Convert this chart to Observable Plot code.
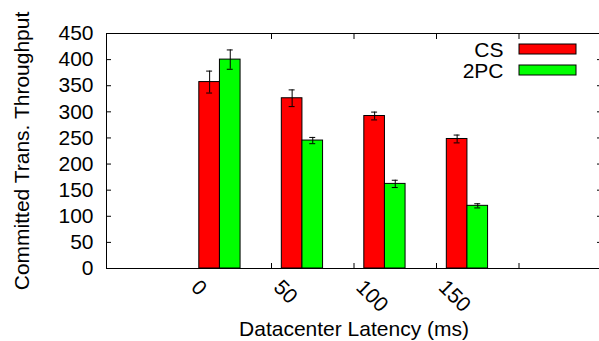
<!DOCTYPE html>
<html>
<head>
<meta charset="utf-8">
<script src="https://cdn.jsdelivr.net/npm/d3@7"></script>
<script src="https://cdn.jsdelivr.net/npm/@observablehq/plot@0.6"></script>
<style>
  html, body { margin: 0; padding: 0; background: #fff; }
  #chart svg { display: block; }
</style>
</head>
<body>
<div id="chart"></div>
<script>
// ---- data ----
const categories = ["0", "50", "100", "150"];
const seriesNames = ["CS", "2PC"];
const seriesColors = ["#ff0000", "#00ff00"];
const csValues = [357, 326, 292, 248];
const csErrors = [21, 16, 7.5, 7.5];
const pcValues = [400, 245, 162, 120];
const pcErrors = [18.5, 6, 7, 4];
const yTicks = [0, 50, 100, 150, 200, 250, 300, 350, 400, 450];
const yTitle = "Committed Trans. Throughput";
const xTitle = "Datacenter Latency (ms)";

// ---- layout ----
const W = 599, H = 341;
const FONT = "Liberation Sans, Arial, Helvetica, sans-serif";
const FS = 21;
const barW = 0.25;       // bar width in category units
const barOffset = 0.125; // first bar offset from category position
const capHalf = 0.036;
const legendRowGap = 21;

const values = [csValues, pcValues];
const errors = [csErrors, pcErrors];
const rows = [];
categories.forEach((c, i) => {
  seriesNames.forEach((s, k) => {
    const x1 = i + barOffset + k * barW;
    rows.push({cat: c, series: s, k, x1, x2: x1 + barW, xc: x1 + barW / 2,
               v: values[k][i], e: errors[k][i]});
  });
});
const catRows = categories.map((c, i) => ({c, i}));

// legend swatches as a custom mark using series colors
function legendSwatches(index, scales, vals, dims) {
  const g = d3.create("svg:g");
  const right = dims.width - dims.marginRight;
  seriesNames.forEach((s, k) => {
    g.append("rect")
      .attr("x", right - 82).attr("y", dims.marginTop + 11 + k * legendRowGap)
      .attr("width", 57).attr("height", 10)
      .attr("fill", seriesColors[k]).attr("stroke", "#000").attr("stroke-width", 1);
  });
  return g.node();
}

const legendTexts = seriesNames.map((s, k) =>
  Plot.text([s], {frameAnchor: "top-right", textAnchor: "end", lineAnchor: "middle",
    dx: -98, dy: 17 + k * legendRowGap, fontSize: FS, fill: "#000"}));

const chart = Plot.plot({
  width: W,
  height: H,
  marginLeft: 106,
  marginRight: -2,
  marginTop: 33,
  marginBottom: 73,
  style: {fontFamily: FONT, color: "#000", background: "#fff"},
  x: {type: "linear", domain: [-1, 5], axis: null},
  y: {domain: [0, 450], axis: null},
  marks: [
    Plot.rect(rows, {x1: "x1", x2: "x2", y1: 0, y2: "v",
      fill: d => seriesColors[d.k], stroke: "#000", strokeWidth: 1}),
    Plot.ruleX(rows, {x: "xc", y1: d => d.v - d.e, y2: d => d.v + d.e, stroke: "#000", strokeWidth: 1}),
    Plot.ruleY(rows, {y: d => d.v - d.e, x1: d => d.xc - capHalf, x2: d => d.xc + capHalf, stroke: "#000", strokeWidth: 1}),
    Plot.ruleY(rows, {y: d => d.v + d.e, x1: d => d.xc - capHalf, x2: d => d.xc + capHalf, stroke: "#000", strokeWidth: 1}),
    // axes: inward ticks
    Plot.axisY({anchor: "left", ticks: yTicks, tickSize: -5, tickFormat: () => "", label: null, stroke: "#000"}),
    Plot.axisY({anchor: "right", ticks: yTicks, tickSize: -5, tickFormat: () => "", label: null, stroke: "#000"}),
    Plot.axisY({anchor: "left", ticks: yTicks, tickSize: 0, tickPadding: 13, fontSize: FS, label: null, fill: "#000"}),
    Plot.axisX({anchor: "bottom", ticks: d3.range(1, categories.length + 1), tickSize: -5, tickFormat: () => "", label: null, stroke: "#000"}),
    Plot.axisX({anchor: "top", ticks: d3.range(1, categories.length + 1), tickSize: -5, tickFormat: () => "", label: null, stroke: "#000"}),
    // rotated category labels
    Plot.text(catRows, {x: "i", frameAnchor: "bottom", text: "c", rotate: 45, textAnchor: "start",
      lineAnchor: "bottom", dy: 20, dx: 1, fontSize: FS, fill: "#000"}),
    // titles
    Plot.text([xTitle], {frameAnchor: "bottom", textAnchor: "middle", lineAnchor: "bottom", dy: 67, fontSize: FS, fill: "#000"}),
    Plot.text([yTitle], {frameAnchor: "left", textAnchor: "middle", rotate: -90, lineAnchor: "bottom", dx: -78, fontSize: FS, fill: "#000"}),
    // legend
    ...legendTexts,
    legendSwatches,
    Plot.frame({stroke: "#000", strokeWidth: 1})
  ]
});
document.getElementById("chart").appendChild(chart);
</script>
</body>
</html>
